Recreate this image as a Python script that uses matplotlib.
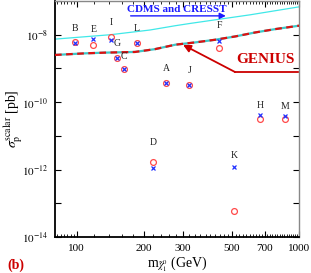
import matplotlib
matplotlib.use("Agg")
import matplotlib.pyplot as plt
from matplotlib.ticker import FixedLocator, NullFormatter, FixedFormatter

plt.rcParams['font.family'] = ['Liberation Serif', 'DejaVu Serif']
plt.rcParams['mathtext.fontset'] = 'stix'

# ---- data ----
models = ['B', 'E', 'I', 'G', 'C', 'L', 'A', 'J', 'F', 'H', 'M', 'D', 'K']
mass = [98, 119, 143, 152, 164, 187, 253, 321, 439, 670, 869, 221, 512]
sigma_cross = [5.8e-9, 7.5e-9, 7.1e-9, 2.1e-9, 9.5e-10, 5.8e-9, 3.8e-10, 3.3e-10,
               6.7e-9, 4.3e-11, 4.0e-11, 1.1e-12, 1.17e-12]
sigma_circle = [6.2e-9, 5.1e-9, 8.7e-9, 2.1e-9, 9.5e-10, 5.8e-9, 3.8e-10, 3.3e-10,
                4.1e-9, 3.1e-11, 3.1e-11, 1.66e-12, 5.9e-14]

cdms_mass = [80, 142, 214, 278, 324, 604, 1000]
cdms_sigma = [7.4e-9, 1.0e-8, 1.38e-8, 1.85e-8, 2.16e-8, 3.9e-8, 6.7e-8]

genius_mass = [80, 109, 134, 183, 225, 278, 342, 421, 518, 637, 784, 1000]
genius_sigma = [2.51e-9, 2.80e-9, 2.94e-9, 3.08e-9, 3.73e-9, 5.06e-9, 5.92e-9,
                7.11e-9, 8.91e-9, 1.17e-8, 1.47e-8, 1.85e-8]

xticks = [100, 200, 300, 500, 700, 1000]
xtick_labels = ['100', '200', '300', '500', '700', '1000']
ydecades = list(range(-14, -6))

# label offsets in pixels (style)
label_off = {'B': 13, 'E': 9, 'I': 14, 'G': 14, 'C': 13, 'L': 14, 'A': 14,
             'J': 14, 'F': 15, 'H': 9, 'M': 9, 'D': 20, 'K': 12}

fig = plt.figure(figsize=(3.11, 2.73), dpi=100)
ax = fig.add_axes([55/311, 36/273, 244/311, 236/273])
ax.set_xscale('log')
ax.set_yscale('log')
ax.set_xlim(80, 1000)
ax.set_ylim(1e-14, 1e-7)

ax.plot(cdms_mass, cdms_sigma, color='#40e8e8', lw=0.9, zorder=2)
ax.plot(genius_mass, genius_sigma, color='#3cc8c8', lw=1.6, zorder=2)
ax.plot(genius_mass, genius_sigma, color='#dd1010', lw=1.6, dashes=(3, 2), zorder=3)

ax.plot(mass, sigma_circle, ls='none', marker='o', ms=4.2, mfc='none', mec='#ff4a4a',
        mew=0.9, zorder=4)
ax.plot(mass, sigma_cross, ls='none', marker='x', ms=3.4, mec='#2030ff', mew=0.9, zorder=5)

for m, x, yc, yo in zip(models, mass, sigma_cross, sigma_circle):
    ax.annotate(m, (x, max(yc, yo)), xytext=(0, label_off[m]), textcoords='offset pixels',
                ha='center', va='center', fontsize=7, color='#222222')

# CDMS and CRESST
ax.text(0.5, 0.962, 'CDMS and CRESST', transform=ax.transAxes, ha='center', va='center',
        fontsize=8, fontweight='bold', color='#1a1aff')
ax.annotate('', xy=(0.70, 0.937), xytext=(0.31, 0.937), xycoords='axes fraction',
            arrowprops=dict(arrowstyle='-|>', color='#1a1aff', lw=1.0,
                            mutation_scale=9, shrinkA=0, shrinkB=0))

# GENIUS
ax.text(0.861, 0.752, 'GENIUS', transform=ax.transAxes, ha='center', va='center',
        fontsize=11, fontweight='bold', color='#cc0000')
ax.plot([0.738, 0.995], [0.699, 0.699], transform=ax.transAxes, color='#cc0000', lw=1.3,
        clip_on=False)
ax.annotate('', xy=(0.525, 0.814), xytext=(0.738, 0.699), xycoords='axes fraction',
            arrowprops=dict(arrowstyle='-|>', color='#cc0000', lw=1.3,
                            mutation_scale=11, shrinkA=0, shrinkB=0))

# ticks
ax.xaxis.set_major_locator(FixedLocator(xticks))
ax.xaxis.set_major_formatter(FixedFormatter(xtick_labels))
minor_x = list(range(82, 100, 3)) + [v for v in range(120, 1000, 20) if v not in xticks]
ax.xaxis.set_minor_locator(FixedLocator(minor_x))
ax.xaxis.set_minor_formatter(NullFormatter())
ax.yaxis.set_major_locator(FixedLocator([10.0**k for k in ydecades]))
ax.yaxis.set_major_formatter(FixedFormatter(['' if k % 2 else f'$10^{{{k}}}$' for k in ydecades]))
ax.yaxis.set_minor_locator(FixedLocator([]))
ax.tick_params(which='major', direction='in', length=4, width=0.8, top=True, right=True,
               labelsize=8, pad=5)
ax.tick_params(which='minor', direction='in', length=2, width=0.6, top=True, right=True)

for s in ['left', 'bottom']:
    ax.spines[s].set_linewidth(1.3)
for s in ['right', 'top']:
    ax.spines[s].set_color('#888888')
    ax.spines[s].set_linewidth(1.0)

ax.set_xlabel(r'm$_{\tilde{\chi}^0_1}$ (GeV)', fontsize=10, labelpad=1)
ax.set_ylabel(r'$\sigma_{\rm p}^{\rm scalar}$ [pb]', fontsize=10)
ax.yaxis.set_label_coords(-0.125, 0.5)

fig.text(0.052, 0.03, '(b)', color='#cc0000', fontsize=10, fontweight='bold',
         ha='center', va='center')

fig.savefig('out.png', dpi=100)
